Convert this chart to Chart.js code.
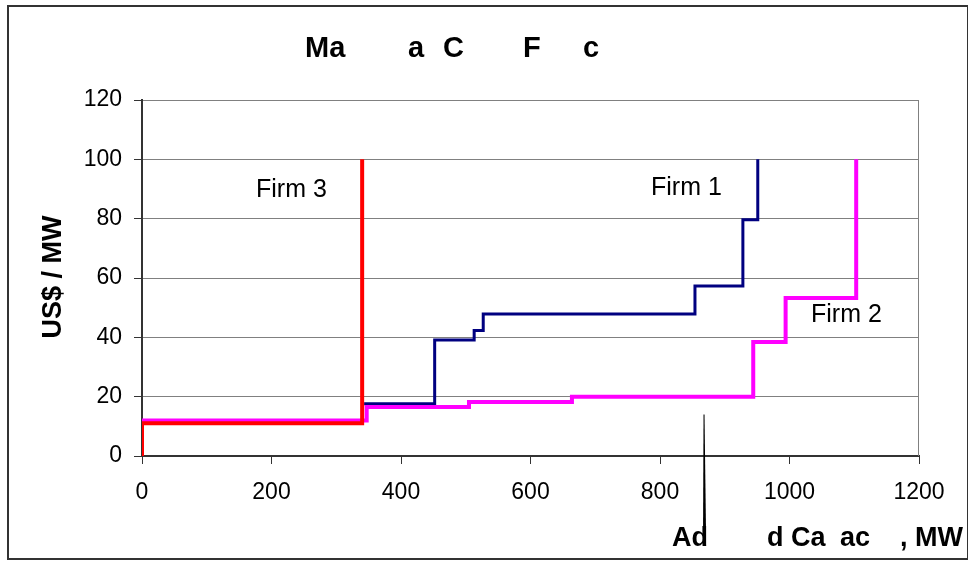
<!DOCTYPE html>
<html>
<head>
<meta charset="utf-8">
<script src="https://cdn.jsdelivr.net/npm/chart.js@4"></script>
<style>
    body { margin: 0; background: #fff; }
    #frame {
        position: absolute;
        left: 7px; top: 5px;
        width: 962px; height: 555px;
        border: 2px solid #333;
        box-sizing: border-box;
        pointer-events: none;
    }
</style>
</head>
<body>
<canvas id="aanbodGrafiek" width="968" height="563"></canvas>
<div id="frame"></div>
<script>
// capaciteit (MW) waar de prijs verspringt, en de prijs (US$/MW) vanaf dat punt
const firm1Mw    = [343, 452, 513, 527, 854, 928, 951];
const firm1Prijs = [17.6, 39.1, 42.3, 47.9, 57.3, 79.6, 100];

const firm2Mw    = [0, 347, 505, 664, 944, 994, 1103];
const firm2Prijs = [12, 16.5, 18.2, 20, 38.4, 53.3, 100];

const firm3Mw    = [0, 0, 340];
const firm3Prijs = [0, 11, 100];

const xTicks = [0, 200, 400, 600, 800, 1000, 1200];
const yTicks = [0, 20, 40, 60, 80, 100, 120];

// losse streep onder de x-as
const streepMw = 868;
const streepPrijs = 14;

const FONT = "'Liberation Sans', Arial, sans-serif";

function punten(xs, ys) {
    return xs.map((x, i) => ({ x: x, y: ys[i] }));
}

const tekstPlugin = {
    id: "teksten",
    beforeDatasetsDraw(chart) {
        const { ctx, chartArea } = chart;
        ctx.save();
        ctx.strokeStyle = "#808080";
        ctx.lineWidth = 1;
        ctx.beginPath();
        ctx.moveTo(chartArea.left, chartArea.top + 0.5);
        ctx.lineTo(chartArea.right - 0.5, chartArea.top + 0.5);
        ctx.lineTo(chartArea.right - 0.5, chartArea.bottom);
        ctx.stroke();
        // linker as
        ctx.strokeStyle = "#333";
        ctx.lineWidth = 2;
        ctx.beginPath();
        ctx.moveTo(chartArea.left, chartArea.top);
        ctx.lineTo(chartArea.left, chartArea.bottom);
        ctx.stroke();
        ctx.restore();
    },
    afterDraw(chart) {
        const { ctx, scales } = chart;
        ctx.save();
        ctx.fillStyle = "#000";
        ctx.textBaseline = "alphabetic";
        ctx.textAlign = "left";

        // titel
        ctx.font = "bold 29px " + FONT;
        [["Ma", 305], ["a", 408], ["C", 443], ["F", 523], ["c", 583]]
            .forEach(([t, x]) => ctx.fillText(t, x, 57));

        // x-as titel
        ctx.font = "bold 27px " + FONT;
        [["Ad", 672], ["d Ca", 767], ["ac", 840], [", MW", 900]]
            .forEach(([t, x]) => ctx.fillText(t, x, 546));

        // y-as titel
        ctx.save();
        ctx.translate(61, 277);
        ctx.rotate(-Math.PI / 2);
        ctx.textAlign = "center";
        ctx.fillText("US$ / MW", 0, 0);
        ctx.restore();

        // labels bij de lijnen
        ctx.font = "25px " + FONT;
        ctx.fillText("Firm 3", 256, 197);
        ctx.fillText("Firm 1", 651, 195);
        ctx.fillText("Firm 2", 811, 322);

        // streep
        const sx = scales.x.getPixelForValue(streepMw);
        const sy = scales.y.getPixelForValue(streepPrijs);
        ctx.beginPath();
        ctx.moveTo(sx - 0.5, sy);
        ctx.lineTo(sx + 0.5, sy);
        ctx.lineTo(sx + 2, 533);
        ctx.lineTo(sx - 1, 533);
        ctx.closePath();
        ctx.fill();
        ctx.restore();
    }
};

function tekenAanbodGrafiek() {
    const canvas = document.getElementById("aanbodGrafiek");

    const datasets = [
        { label: "Firm 1", data: punten(firm1Mw, firm1Prijs), borderColor: "#000080", borderWidth: 3, order: 2 },
        { label: "Firm 2", data: punten(firm2Mw, firm2Prijs), borderColor: "#FF00FF", borderWidth: 4, order: 1 },
        { label: "Firm 3", data: punten(firm3Mw, firm3Prijs), borderColor: "#FF0000", borderWidth: 4, order: 0 },
    ].map(d => Object.assign(d, {
        stepped: "before",
        fill: false,
        pointRadius: 0,
        borderJoinStyle: "miter",
        borderCapStyle: "butt",
    }));

    new Chart(canvas, {
        type: "line",
        data: { datasets: datasets },
        options: {
            responsive: false,
            animation: false,
            devicePixelRatio: 1,
            layout: { padding: { left: 0, right: 49, top: 100, bottom: 0 } },
            plugins: {
                legend: { display: false },
                title: { display: false },
                tooltip: { enabled: false },
            },
            scales: {
                x: {
                    type: "linear",
                    min: 0,
                    max: 1200,
                    afterFit: s => { s.height = 107; },
                    afterBuildTicks: s => { s.ticks = xTicks.map(v => ({ value: v })); },
                    grid: { drawOnChartArea: false, tickLength: 8, tickColor: "#333", tickWidth: 1 },
                    border: { color: "#333", width: 2 },
                    ticks: { color: "#000", padding: 15, maxRotation: 0, font: { family: FONT, size: 23 }, callback: v => String(v) },
                },
                y: {
                    min: 0,
                    max: 120,
                    afterFit: s => { s.width = 142; },
                    afterBuildTicks: s => { s.ticks = yTicks.map(v => ({ value: v })); },
                    grid: { color: "#808080", lineWidth: 1, tickLength: 8, tickColor: "#333", tickWidth: 1 },
                    border: { color: "#333", width: 2 },
                    ticks: { color: "#000", padding: 12, font: { family: FONT, size: 23 }, callback: v => String(v) },
                },
            },
        },
        plugins: [tekstPlugin],
    });
}

window.addEventListener("load", tekenAanbodGrafiek);
</script>
</body>
</html>
